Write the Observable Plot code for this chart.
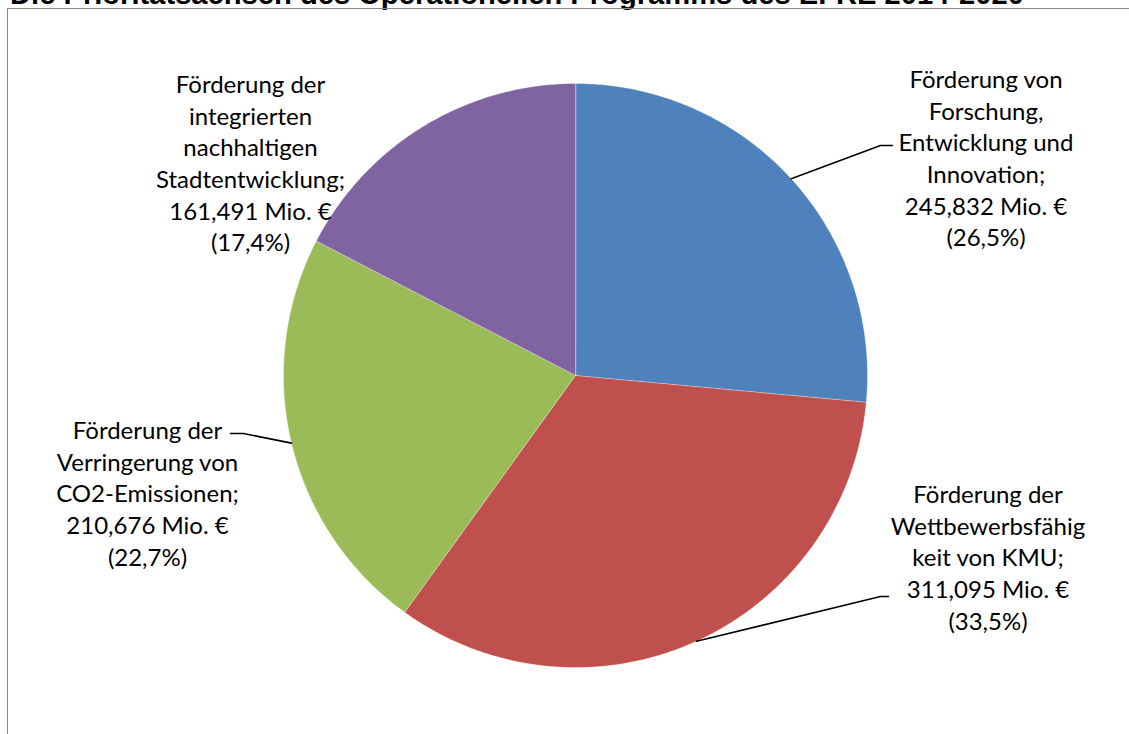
<!DOCTYPE html>
<html>
<head>
<meta charset="utf-8">
<script src="https://cdn.jsdelivr.net/npm/d3@7"></script>
<script src="https://cdn.jsdelivr.net/npm/@observablehq/plot@0.6"></script>
<style>
  html, body { margin: 0; padding: 0; background: #fff; }
  body { width: 1129px; height: 734px; overflow: hidden; position: relative; }
  #title { position: absolute; left: 10px; top: -20.5px; font: bold 29.15px "Liberation Sans", Arial, sans-serif; line-height: 29px; white-space: nowrap; color: #000; }
  #frame { position: absolute; left: 7px; top: 8px; width: 1300px; height: 900px; border: 1.5px solid #868686; }
  #chart { position: absolute; left: 0; top: 0; }
</style>
</head>
<body>
<div id="title">Die Prioritätsachsen des Operationellen Programms des EFRE 2014-2020</div>
<div id="frame"></div>
<div id="chart"></div>
<script>
// ---- data ----
const categories = [
  "Förderung von Forschung, Entwicklung und Innovation",
  "Förderung der Wettbewerbsfähigkeit von KMU",
  "Förderung der Verringerung von CO2-Emissionen",
  "Förderung der integrierten nachhaltigen Stadtentwicklung"
];
const values = [245.832, 311.095, 210.676, 161.491]; // Mio. €
const labelWraps = [
  ["Förderung von", "Forschung,", "Entwicklung und", "Innovation;"],
  ["Förderung der", "Wettbewerbsfähig", "keit von KMU;"],
  ["Förderung der", "Verringerung von", "CO2-Emissionen;"],
  ["Förderung der", "integrierten", "nachhaltigen", "Stadtentwicklung;"]
];
const colors = ["#4F81BD", "#C0504D", "#9BBB59", "#8064A2"];

// ---- layout (pixels) ----
const W = 1129, H = 734;
const cx = 575, cy = 375, R = 292;
const fontSize = 24, linePx = 31.7;
// label centre x and first-line baseline y, relative to the pie centre
const labelOffsets = [[410.5, -293], [412.5, 122], [-428, 58], [-325, -288]];
// leader elbow / end relative to the pie centre (null = no leader)
const leaderOffsets = [[[305, -230], [317, -230]], [[305, 221], [313, 221]], [[-332, 58], [-345, 58]], null];

// ---- build ----
const total = d3.sum(values);
const fmtNum = d3.formatLocale({decimal: ",", thousands: ".", grouping: [3], currency: ["", " €"]});
const f3 = fmtNum.format(".3f"), f1 = fmtNum.format(".1f");
const toU = px => px / R; // pixel offset -> data units

const sliceRows = [];
const labelRows = [];
const leaderRows = [];
let cum = 0;
values.forEach((v, i) => {
  const a0 = cum / total * 2 * Math.PI;
  cum += v;
  const a1 = cum / total * 2 * Math.PI;
  sliceRows.push({cat: categories[i], x: 0, y: 0});
  const n = Math.max(2, Math.ceil((a1 - a0) / (Math.PI / 360)));
  for (let k = 0; k <= n; k++) {
    const a = a0 + (a1 - a0) * k / n;
    sliceRows.push({cat: categories[i], x: Math.sin(a), y: Math.cos(a)});
  }
  const pct = v / total * 100;
  const text = [...labelWraps[i], `${f3(v)} Mio. €`, `(${f1(pct)}%)`].join("\n");
  const [ox, oy] = labelOffsets[i];
  // top of first line = baseline - 0.71em
  labelRows.push({cat: categories[i], text, x: toU(ox), y: -toU(oy - 0.71 * fontSize)});
  if (leaderOffsets[i]) {
    const am = (a0 + a1) / 2;
    leaderRows.push({cat: categories[i], x: Math.sin(am), y: Math.cos(am)});
    for (const [lx, ly] of leaderOffsets[i]) leaderRows.push({cat: categories[i], x: toU(lx), y: -toU(ly)});
  }
});

const chart = Plot.plot({
  width: W,
  height: H,
  margin: 0,
  style: {background: "transparent", overflow: "visible"},
  x: {domain: [-1, 1], range: [cx - R, cx + R], axis: null},
  y: {domain: [-1, 1], range: [cy + R, cy - R], axis: null},
  color: {domain: categories, range: colors},
  marks: [
    Plot.line(sliceRows, {x: "x", y: "y", z: "cat", fill: "cat", stroke: "#ffffff", strokeOpacity: 0.35, strokeWidth: 1, curve: "linear-closed"}),
    Plot.line(leaderRows, {x: "x", y: "y", z: "cat", stroke: "#000000", strokeWidth: 1.6, curve: "linear"}),
    Plot.text(labelRows, {x: "x", y: "y", text: "text", textAnchor: "middle", lineAnchor: "top", lineHeight: linePx / fontSize, fontSize, fontFamily: "Lato, 'Open Sans', sans-serif", fill: "#000000"})
  ]
});
document.getElementById("chart").appendChild(chart);
</script>
</body>
</html>
